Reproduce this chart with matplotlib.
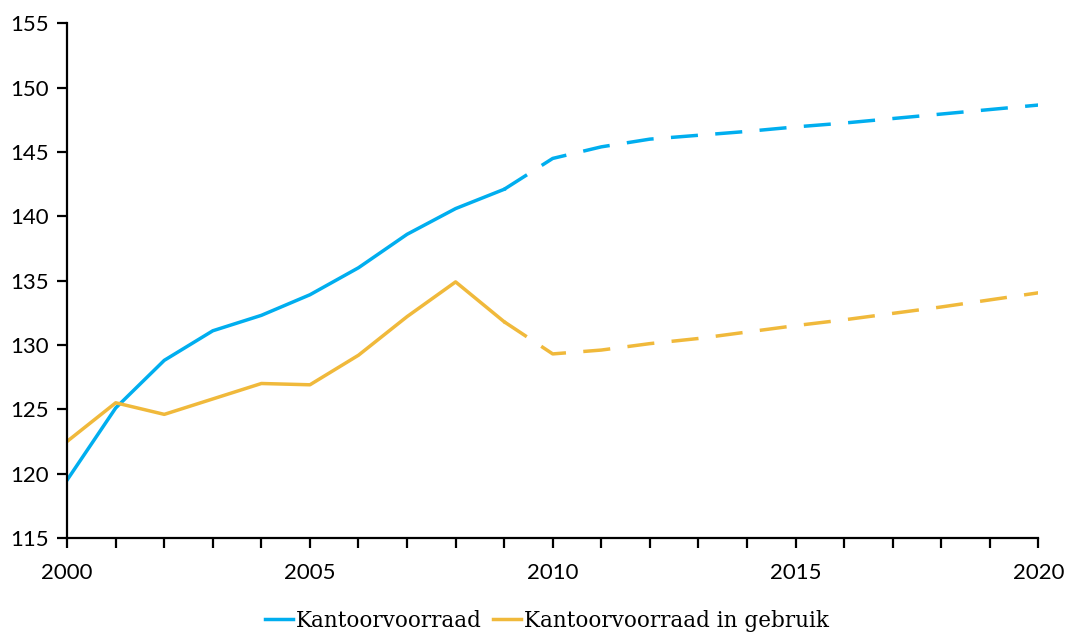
import numpy as np
from matplotlib import pyplot as plt
from matplotlib.ticker import MultipleLocator

plt.rcParams['font.family'] = ['Lato', 'DejaVu Sans']

years = np.arange(2000, 2021)
voorraad = [119.5, 125.1, 128.8, 131.1, 132.3, 133.9, 136.0, 138.6, 140.6, 142.1,
            144.5, 145.4, 146.0, 146.3, 146.6, 146.95, 147.25, 147.6, 147.95, 148.3, 148.65]
in_gebruik = [122.5, 125.5, 124.6, 125.8, 127.0, 126.9, 129.2, 132.2, 134.9, 131.8,
              129.3, 129.6, 130.1, 130.5, 131.0, 131.5, 131.95, 132.45, 132.95, 133.5, 134.05]
split = 2009  # from here on: prognose (dashed)

blue = "#00AEEF"
orange = "#F0B93B"

fig, ax = plt.subplots(figsize=(10.66, 6.32), dpi=100)
plt.subplots_adjust(left=0.063, right=0.974, top=0.963, bottom=0.149)

k = split - years[0]
lw = 2.5
for vals, col, lab in [(voorraad, blue, "Kantoorvoorraad"),
                       (in_gebruik, orange, "Kantoorvoorraad in gebruik")]:
    vals = np.array(vals)
    ax.plot(years[:k+1], vals[:k+1], color=col, lw=lw, label=lab)
    ax.plot(years[k:], vals[k:], color=col, lw=lw, dashes=(7.8, 5.0))

ax.set_xlim(2000, 2020)
ax.set_ylim(115, 155)
ax.xaxis.set_major_locator(MultipleLocator(5))
ax.xaxis.set_minor_locator(MultipleLocator(1))
ax.yaxis.set_major_locator(MultipleLocator(5))
for s in ["top", "right"]:
    ax.spines[s].set_visible(False)
for s in ["left", "bottom"]:
    ax.spines[s].set_linewidth(1.6)
ax.tick_params(which="both", direction="out", length=7, width=1.6)
ax.tick_params(axis="x", which="major", pad=11)
ax.tick_params(axis="y", pad=6)
ax.tick_params(labelsize=16)

leg = fig.legend(loc="lower center", ncol=2, frameon=False, bbox_to_anchor=(0.513, -0.03),
                 prop={"family": "DejaVu Serif", "size": 15.5},
                 handlelength=1.3, handletextpad=0.15, columnspacing=0.5)

plt.savefig("out.png")
